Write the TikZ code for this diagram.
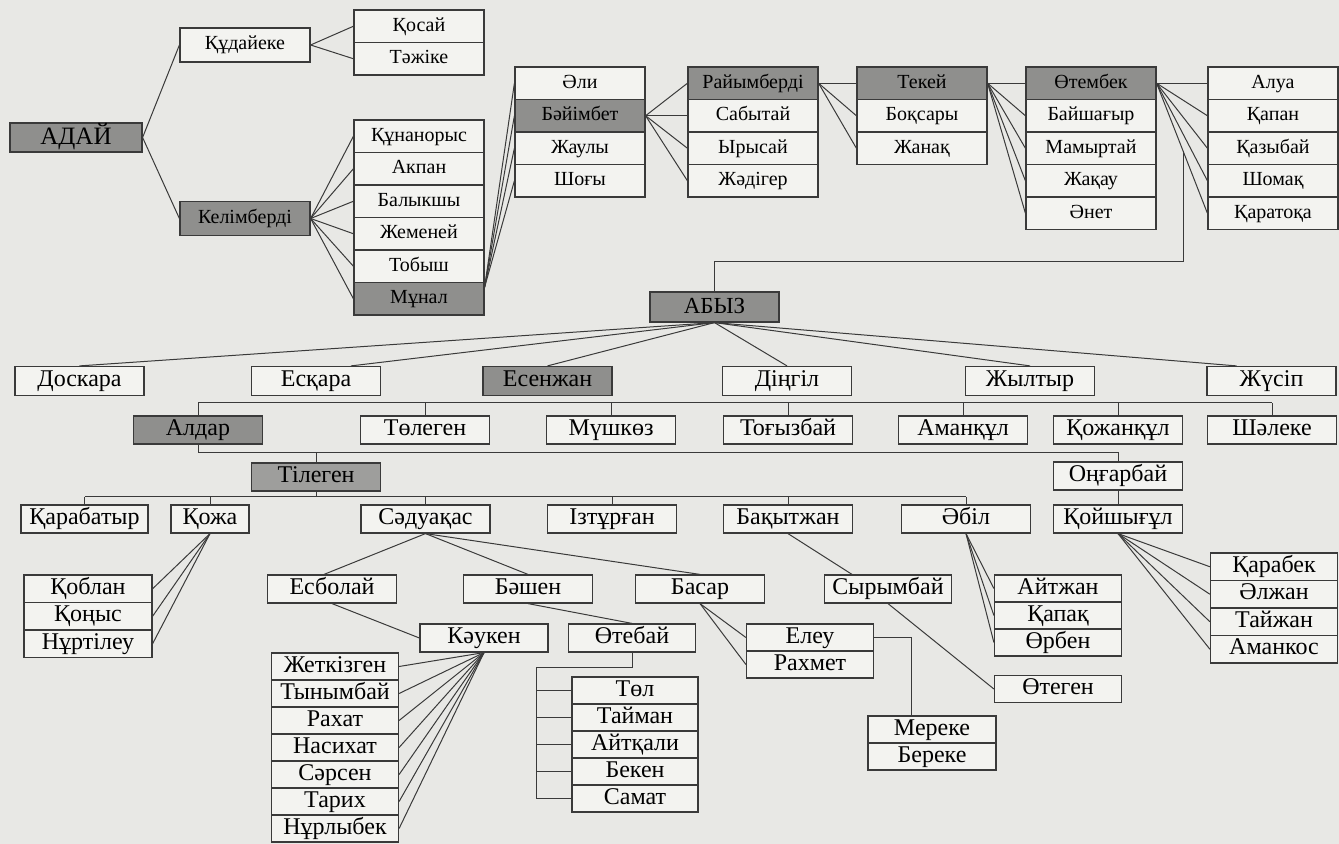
\documentclass[tikz,border=0pt]{standalone}
\usepackage{fontspec}
\setmainfont{Liberation Serif}
\usetikzlibrary{calc}
\definecolor{paper}{HTML}{E8E8E5}
\definecolor{cellfill}{HTML}{F3F3F0}
\definecolor{darkcell}{HTML}{8F8F8D}
\definecolor{ink}{HTML}{3A3A3A}

\begin{document}
\begin{tikzpicture}[x=0.5pt, y=-0.5pt,
  cell/.style = {draw=ink, fill=cellfill, line width=.6pt, inner sep=0pt,
                 minimum width=65pt, minimum height=16.25pt,
                 text height=7pt, text depth=2pt,
                 font=\fontsize{10}{12}\selectfont},
  low/.style  = {cell, minimum width=64.5pt, minimum height=14pt,
                 text height=8.2pt, text depth=2.6pt,
                 font=\fontsize{12}{14}\selectfont},
  wire/.style = {draw=ink, line width=.5pt}]
 \fill[paper] (0,0) rectangle (1339,844);
 \useasboundingbox (0,0) rectangle (1339,844);

 % top: Adai line
 \node[cell, fill=darkcell, minimum width=66pt, minimum height=14.5pt,
       text height=8.5pt, text depth=1pt,
       font=\fontsize{12.5}{14}\selectfont] (adai) at (76,137.5) {АДАЙ};
 \node[cell, minimum height=17pt] (kudaike) at (245,45) {Құдайеке};
 \node[cell, fill=darkcell, minimum height=17pt] (kelim) at (245,218.5) {Келімберді};
 \foreach \nm [count=\i] in {Қосай,Тәжіке}
   \node[cell] (kos\i) at (419,{26.25+32.5*(\i-1)}) {\nm};
 \foreach \nm/\tone [count=\i] in {Құнанорыс/cellfill,Акпан/cellfill,Балыкшы/cellfill,
     Жеменей/cellfill,Тобыш/cellfill,Мұнал/darkcell}
   \node[cell, fill=\tone] (kun\i) at (419,{136.25+32.5*(\i-1)}) {\nm};
 \foreach \nm/\tone [count=\i] in {Әли/cellfill,Бәйімбет/darkcell,Жаулы/cellfill,Шоғы/cellfill}
   \node[cell, fill=\tone] (ali\i) at (580,{83.25+32.5*(\i-1)}) {\nm};
 \foreach \nm/\tone [count=\i] in {Райымберді/darkcell,Сабытай/cellfill,Ырысай/cellfill,Жәдігер/cellfill}
   \node[cell, fill=\tone] (raiym\i) at (753,{83.25+32.5*(\i-1)}) {\nm};
 \foreach \nm/\tone [count=\i] in {Текей/darkcell,Боқсары/cellfill,Жанақ/cellfill}
   \node[cell, fill=\tone] (tekei\i) at (922,{83.25+32.5*(\i-1)}) {\nm};
 \foreach \nm/\tone [count=\i] in {Өтембек/darkcell,Байшағыр/cellfill,Мамыртай/cellfill,
     Жақау/cellfill,Әнет/cellfill}
   \node[cell, fill=\tone] (otem\i) at (1091,{83.25+32.5*(\i-1)}) {\nm};
 \foreach \nm [count=\i] in {Алуа,Қапан,Қазыбай,Шомақ,Қаратоқа}
   \node[cell] (alua\i) at (1273,{83.25+32.5*(\i-1)}) {\nm};

 \draw[wire] (adai.east) -- (kudaike.west);
 \draw[wire] (adai.east) -- (kelim.west);
 \foreach \i in {1,2} \draw[wire] (kudaike.east) -- (kos\i.west);
 \foreach \i in {1,...,6} \draw[wire] (kelim.east) -- (kun\i.west);
 \foreach \i in {1,...,4} \draw[wire] (kun6.10) -- (ali\i.west);
 \foreach \i in {1,...,4} \draw[wire] (ali2.east) -- (raiym\i.west);
 \foreach \i in {1,...,3} \draw[wire] (raiym1.east) -- (tekei\i.west);
 \foreach \i in {1,...,5} \draw[wire] (tekei1.east) -- (otem\i.west);
 \foreach \i in {1,...,5} \draw[wire] (otem1.east) -- (alua\i.west);

 % link down to Abyz
 \node[cell, fill=darkcell, minimum width=64.5pt, minimum height=15pt,
       text height=8pt, text depth=1pt,
       font=\fontsize{11.5}{13}\selectfont] (abyz) at (714.5,307) {АБЫЗ};
 \coordinate (turn) at ($(otem1.east)!0.52!(alua5.west)$);
 \coordinate (link) at (0,262);
 \draw[wire] (turn) -- (turn |- link) -- (abyz.north |- link) -- (abyz.north);

 % Abyz sons
 \node[low, minimum height=14.5pt] (doskara) at (79.5,381) {Доскара};
 \node[low, minimum height=14.5pt] (eskara) at (316,381) {Есқара};
 \node[low, minimum height=14.5pt, fill=darkcell] (esenzhan) at (547.5,381) {Есенжан};
 \node[low, minimum height=14.5pt] (dingil) at (787,381) {Діңгіл};
 \node[low, minimum height=14.5pt] (zhyltyr) at (1030,381) {Жылтыр};
 \node[low, minimum height=14.5pt] (zhusip) at (1271.5,381) {Жүсіп};
 \draw[wire] (abyz.south) -- (doskara.north);
 \draw[wire] (abyz.south) -- ($(eskara.north)+(35,0)$);
 \draw[wire] (abyz.south) -- (esenzhan.north);
 \draw[wire] (abyz.south) -- (dingil.north);
 \draw[wire] (abyz.south) -- (zhyltyr.north);
 \draw[wire] (abyz.south) -- ($(zhusip.north)+(-35,0)$);

 % grandsons
 \node[low, fill=darkcell] (aldar) at (198,430) {Алдар};
 \node[low] (tolegen) at (425,430) {Төлеген};
 \node[low] (mushkoz) at (611,430) {Мүшкөз};
 \node[low] (togyzbai) at (788,430) {Тоғызбай};
 \node[low] (amankul) at (963,430) {Аманқұл};
 \node[low] (kozhankul) at (1118,430) {Қожанқұл};
 \node[low] (shaleke) at (1272,430) {Шәлеке};
 \coordinate (bar1) at (0,403);
 \draw[wire] (aldar.north |- bar1) -- (shaleke.north |- bar1);
 \foreach \n in {aldar,tolegen,mushkoz,togyzbai,amankul,kozhankul,shaleke}
   \draw[wire] (\n.north) -- (\n.north |- bar1);

 \node[low, fill=darkcell!85!cellfill] (tilegen) at (316,477) {Тілеген};
 \node[low] (ongarbai) at (1118,476) {Оңғарбай};
 \coordinate (bar2) at (0,453);
 \draw[wire] (aldar.south) -- (aldar.south |- bar2) -- (ongarbai.north |- bar2) -- (ongarbai.north);
 \draw[wire] (tilegen.north) -- (tilegen.north |- bar2);

 \node[low, minimum width=63.5pt] (karabatyr) at (84.5,519) {Қарабатыр};
 \node[low, minimum width=39pt] (kozha) at (210,519) {Қожа};
 \node[low] (saduakas) at (425.5,519) {Сәдуақас};
 \node[low] (izturgan) at (612,519) {Ізтұрған};
 \node[low] (bakytzhan) at (788,519) {Бақытжан};
 \node[low] (abil) at (966,519) {Әбіл};
 \node[low] (koishygul) at (1118,519) {Қойшығұл};
 \coordinate (bar3) at (0,497);
 \draw[wire] (karabatyr.north |- bar3) -- (abil.north |- bar3);
 \draw[wire] (tilegen.south) -- (tilegen.south |- bar3);
 \foreach \n in {karabatyr,kozha,saduakas,izturgan,bakytzhan,abil}
   \draw[wire] (\n.north) -- (\n.north |- bar3);
 \draw[wire] (ongarbai.south) -- (koishygul.north);

 % next generations
 \foreach \nm [count=\i] in {Қоблан,Қоңыс,Нұртілеу}
   \node[low, minimum width=64pt, minimum height=13.75pt] (kob\i) at (88,{588.75+27.5*(\i-1)}) {\nm};
 \foreach \i in {1,...,3} \draw[wire] (kozha.south) -- (kob\i.east);

 \node[low] (esbolai) at (332,589) {Есболай};
 \node[low] (bashen) at (528,589) {Бәшен};
 \node[low] (basar) at (700,589) {Басар};
 \node[low, minimum width=63.5pt] (syrymbai) at (888,589) {Сырымбай};
 \draw[wire] (saduakas.south) -- ($(esbolai.north)+(-8,0)$);
 \draw[wire] (saduakas.south) -- (bashen.north);
 \draw[wire] (saduakas.south) -- (basar.north);
 \draw[wire] (bakytzhan.south) -- ($(syrymbai.north)+(-36,0)$);

 \node[low, minimum width=64pt] (kauken) at (484,638) {Кәукен};
 \node[low, minimum width=63.5pt] (otebai) at (632,638) {Өтебай};
 \draw[wire] (esbolai.south) -- (kauken.west);
 \draw[wire] (bashen.south) -- (otebai.north);

 \foreach \nm [count=\i] in {Жеткізген,Тынымбай,Рахат,Насихат,Сәрсен,Тарих,Нұрлыбек}
   \node[low, minimum width=63.5pt, minimum height=13.5pt] (zhet\i) at (335,{666.5+27*(\i-1)}) {\nm};
 \foreach \i in {1,...,7} \draw[wire] (kauken.south) -- (zhet\i.east);

 \foreach \nm [count=\i] in {Төл,Тайман,Айтқали,Бекен,Самат}
   \node[low, minimum width=63pt, minimum height=13.5pt] (tol\i) at (635,{690.5+27*(\i-1)}) {\nm};
 \coordinate (bracket) at (536,667);
 \draw[wire] (otebai.south) |- (bracket) |- (tol5.west);
 \foreach \i in {1,...,4} \draw[wire] (tol\i.west) -- (tol\i.west -| bracket);

 \foreach \nm [count=\i] in {Елеу,Рахмет}
   \node[low, minimum width=63.5pt, minimum height=13.5pt] (eleu\i) at (810,{637.5+27*(\i-1)}) {\nm};
 \foreach \i in {1,2} \draw[wire] (basar.south) -- (eleu\i.west);
 \foreach \nm [count=\i] in {Мереке,Береке}
   \node[low, minimum width=64pt, minimum height=13.5pt] (mer\i) at (932,{729.5+27*(\i-1)}) {\nm};
 \draw[wire] (eleu1.east) -| ($(mer1.north)+(-21,0)$);

 \foreach \nm [count=\i] in {Айтжан,Қапақ,Өрбен}
   \node[low, minimum width=63.5pt, minimum height=13.5pt] (ait\i) at (1058,{588.5+27*(\i-1)}) {\nm};
 \foreach \i in {1,...,3} \draw[wire] (abil.south) -- (ait\i.west);
 \node[low, minimum width=63.5pt, minimum height=13.5pt] (otegen) at (1058,689) {Өтеген};
 \draw[wire] (syrymbai.south) -- (otegen.west);

 \foreach \nm [count=\i] in {Қарабек,Әлжан,Тайжан,Аманкос}
   \node[low, minimum width=63.5pt, minimum height=13.75pt] (karab\i) at (1274,{566.75+27.5*(\i-1)}) {\nm};
 \foreach \i in {1,...,4} \draw[wire] (koishygul.south) -- (karab\i.west);
\end{tikzpicture}
\end{document}
